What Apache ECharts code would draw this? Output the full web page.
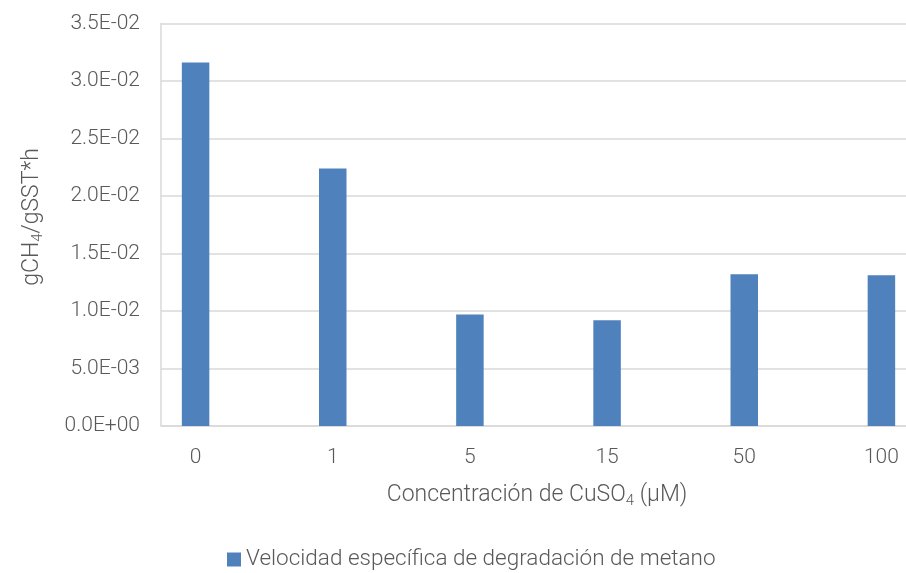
<!DOCTYPE html>
<html>
<head>
<meta charset="utf-8">
<style>
  html, body { margin: 0; padding: 0; background: #fff; }
  #chart { width: 906px; height: 573px; }
</style>
<script src="https://cdn.jsdelivr.net/npm/echarts@6/dist/echarts.min.js"></script>
</head>
<body>
<div id="chart"></div>
<script>
// CuSO4 concentrations (µM) and specific methane degradation rate (gCH4/gSST*h)
const categories = ['0', '1', '5', '15', '50', '100'];
const rates = [0.0316, 0.0224, 0.0097, 0.0092, 0.0132, 0.0131];
const seriesName = 'Velocidad específica de degradación de metano';

const yMin = 0, yMax = 0.035, yStep = 0.005;

const FONT = '"Roboto", sans-serif';
const WEIGHT = 300;
const TEXT = '#595959';
const GRID = '#d9d9d9';
const BAR = '#4f81bd';

function sci(v) {
  if (v === 0) return '0.0E+00';
  const e = Math.floor(Math.log10(Math.abs(v)) + 1e-9);
  const m = v / Math.pow(10, e);
  const sign = e < 0 ? '-' : '+';
  const ee = String(Math.abs(e)).padStart(2, '0');
  return m.toFixed(1) + 'E' + sign + ee;
}

const chart = echarts.init(document.getElementById('chart'), null, { renderer: 'canvas' });

chart.setOption({
  backgroundColor: '#fff',
  animation: false,
  grid: [
    // frame: value axis, gridlines, baseline
    { left: 161, right: 0, top: 23.5, bottom: 147, outerBoundsMode: 'none' },
    // bars and category labels; bands run past the right edge
    { left: 127, width: 823, top: 23.5, bottom: 147, outerBoundsMode: 'none', containLabel: false }
  ],
  xAxis: [
    {
      gridIndex: 0, type: 'category', data: categories,
      axisLine: { show: true, lineStyle: { color: GRID, width: 1.5 } },
      axisTick: { show: false }, axisLabel: { show: false }, splitLine: { show: false }
    },
    {
      gridIndex: 1, type: 'category', data: categories,
      axisLine: { show: false }, axisTick: { show: false },
      axisLabel: { color: TEXT, fontFamily: FONT, fontWeight: WEIGHT, fontSize: 21, margin: 21 }
    }
  ],
  yAxis: [
    {
      gridIndex: 0, type: 'value', min: yMin, max: yMax, interval: yStep,
      axisLine: { show: true, lineStyle: { color: GRID, width: 1.5 } },
      axisTick: { show: false },
      axisLabel: { color: TEXT, fontFamily: FONT, fontWeight: WEIGHT, fontSize: 21, margin: 21, formatter: sci },
      splitLine: { show: true, lineStyle: { color: GRID, width: 1.5 } }
    },
    {
      gridIndex: 1, type: 'value', min: yMin, max: yMax, interval: yStep,
      show: false, splitLine: { show: false }
    }
  ],
  legend: {
    top: 543, left: 222,
    itemWidth: 14, itemHeight: 14, itemGap: 6,
    icon: 'rect',
    textStyle: { color: TEXT, fontFamily: FONT, fontWeight: WEIGHT, fontSize: 22.5 },
    data: [seriesName]
  },
  series: [
    {
      name: seriesName, type: 'bar', xAxisIndex: 1, yAxisIndex: 1,
      data: rates, barWidth: 27.5,
      itemStyle: { color: BAR }
    }
  ],
  graphic: [
    {
      type: 'text', x: 537, y: 495,
      style: {
        text: '{a|Concentración de CuSO}{s|4}{a| (µM)}',
        align: 'center', verticalAlign: 'middle',
        rich: {
          a: { fontFamily: FONT, fontWeight: WEIGHT, fontSize: 23, fill: TEXT },
          s: { fontFamily: FONT, fontWeight: WEIGHT, fontSize: 15, fill: TEXT, padding: [12, 0, 0, 0] }
        }
      }
    },
    {
      type: 'text', x: 32, y: 217, rotation: Math.PI / 2,
      style: {
        text: '{a|gCH}{s|4}{a|/gSST*h}',
        align: 'center', verticalAlign: 'middle',
        rich: {
          a: { fontFamily: FONT, fontWeight: WEIGHT, fontSize: 23, fill: TEXT },
          s: { fontFamily: FONT, fontWeight: WEIGHT, fontSize: 15, fill: TEXT, padding: [12, 0, 0, 0] }
        }
      }
    }
  ]
});
</script>
</body>
</html>
